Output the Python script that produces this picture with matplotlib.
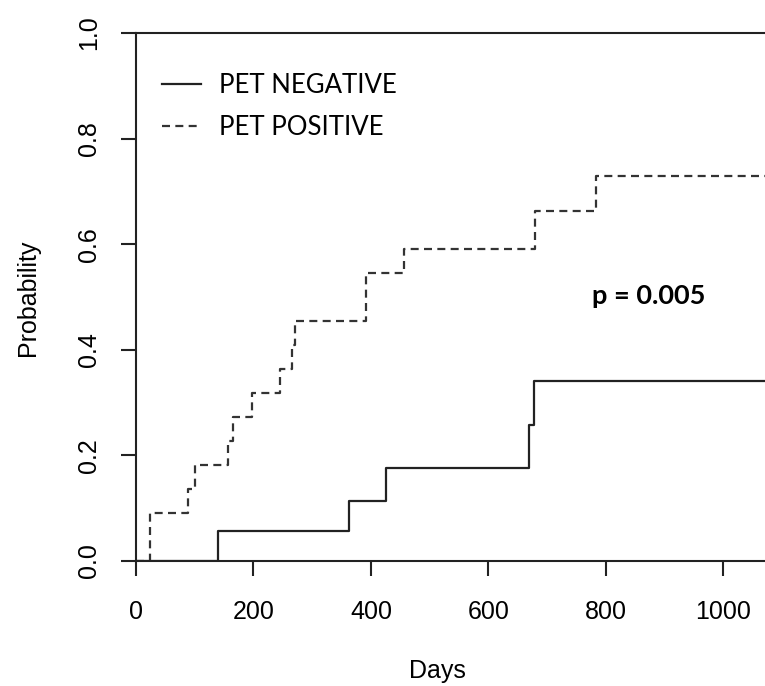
import matplotlib
matplotlib.use("Agg")
import matplotlib.pyplot as plt

# cumulative incidence step curves (days, probability after each event)
neg_days = [0, 140, 362, 426, 669, 677, 1100]
neg_prob = [0.0, 0.056, 0.114, 0.177, 0.258, 0.340, 0.340]

pos_days = [0, 23, 88, 100, 157, 165, 197, 246, 266, 270, 392, 456, 679, 783, 1100]
pos_prob = [0.0, 0.091, 0.136, 0.182, 0.227, 0.273, 0.318, 0.364, 0.409,
            0.455, 0.545, 0.591, 0.662, 0.730, 0.730]

x_ticks = [0, 200, 400, 600, 800, 1000]
y_ticks = [0.0, 0.2, 0.4, 0.6, 0.8, 1.0]
p_label = "p = 0.005"

W, H = 765, 686
fig = plt.figure(figsize=(W / 100, H / 100), dpi=100)
ax = fig.add_axes([136 / W, 125 / H, 1 - 136 / W, 528 / H])

ink = "#222222"
ax.step(neg_days, neg_prob, where="post", color=ink, lw=1.6, label="PET NEGATIVE")
ax.step(pos_days, pos_prob, where="post", color="#333333", lw=1.6,
        linestyle=(0, (3.6, 2.4)), label="PET POSITIVE")

ax.set_xlim(0, 1071)
ax.set_ylim(0, 1)
ax.set_xticks(x_ticks)
ax.set_yticks(y_ticks)
ax.set_yticklabels([f"{v:.1f}" for v in y_ticks], rotation=90, va="center")

tick_font = "Liberation Sans"
for lab in ax.get_xticklabels() + ax.get_yticklabels():
    lab.set_family(tick_font)
    lab.set_fontsize(18)
ax.tick_params(length=11, width=1.5, color=ink, pad=14)
ax.tick_params(axis="x", pad=17)

for side in ("left", "bottom", "top"):
    ax.spines[side].set_linewidth(1.5)
    ax.spines[side].set_color(ink)
ax.spines["right"].set_visible(False)

ax.set_xlabel("Days", family=tick_font, fontsize=18, va="top")
ax.xaxis.set_label_coords(0.4785, -0.186)
ax.set_ylabel("Probability", family=tick_font, fontsize=18, va="center")
ax.yaxis.set_label_coords(-0.172, 0.498)

ax.legend(loc="upper left", bbox_to_anchor=(0.025, 0.944), frameon=False,
          prop={"family": "Lato", "size": 18.5}, handlelength=1.5,
          handletextpad=0.7, labelspacing=0.68, borderaxespad=0.0)

ax.text(0.815, 0.502, p_label, transform=ax.transAxes, ha="center", va="center",
        family="Lato", fontweight="bold", fontsize=19.5)

fig.savefig("out.png", dpi=100)
